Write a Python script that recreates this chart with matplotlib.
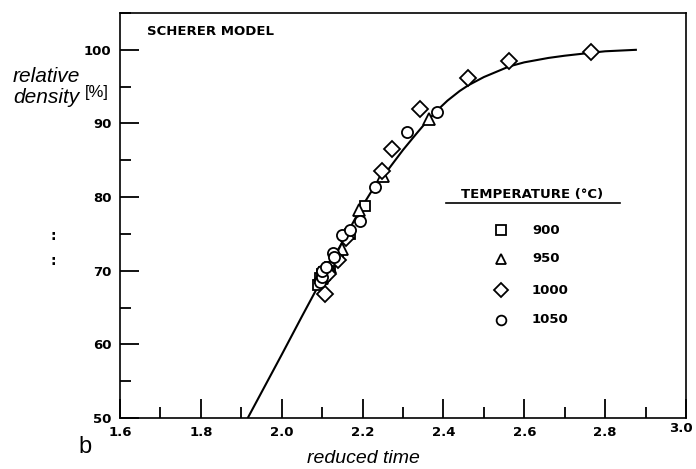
import numpy as np
import matplotlib.pyplot as plt
from matplotlib.ticker import MultipleLocator
from matplotlib.transforms import ScaledTranslation

plt.rcParams['font.family'] = ['DejaVu Sans']

# Scherer model curve (reduced time, relative density %)
model_t = [1.916, 2.0, 2.05, 2.094, 2.15, 2.193, 2.22, 2.267, 2.30, 2.333, 2.35,
           2.383, 2.41, 2.44, 2.462, 2.50, 2.563, 2.60, 2.66, 2.70, 2.765, 2.80, 2.876]
model_rho = [50.0, 58.6, 63.8, 68.3, 73.9, 78.2, 80.6, 84.0, 86.4, 88.6, 89.7,
             91.7, 93.1, 94.4, 95.2, 96.3, 97.75, 98.3, 98.9, 99.2, 99.6, 99.8, 100.0]

# measured points per sintering temperature
t_900 = [2.09, 2.095, 2.10, 2.105, 2.12, 2.14, 2.17, 2.205]
rho_900 = [68.0, 69.0, 69.5, 69.8, 70.5, 72.0, 75.0, 78.8]

t_950 = [2.10, 2.105, 2.12, 2.13, 2.15, 2.19, 2.25, 2.365]
rho_950 = [69.0, 70.0, 70.5, 71.5, 73.0, 78.2, 82.8, 90.6]

t_1000 = [2.10, 2.106, 2.11, 2.115, 2.14, 2.16, 2.247, 2.272, 2.341, 2.462, 2.563, 2.765]
rho_1000 = [68.8, 66.9, 70.0, 69.5, 71.5, 74.5, 83.6, 86.5, 91.9, 96.2, 98.5, 99.7]

t_1050 = [2.095, 2.10, 2.10, 2.11, 2.126, 2.13, 2.15, 2.168, 2.193, 2.23, 2.311, 2.385]
rho_1050 = [68.5, 69.2, 70.0, 70.5, 72.4, 71.8, 74.8, 75.5, 76.8, 81.4, 88.8, 91.6]

temps = ['900', '950', '1000', '1050']
markers = ['s', '^', 'D', 'o']
msizes = [7, 8, 8.5, 8]

fig = plt.figure(figsize=(6.96, 4.69), dpi=100)
ax = fig.add_axes([120/696, 51/469, 566/696, 405/469])

ax.plot(model_t, model_rho, color='black', lw=1.5, zorder=2)

series = [(t_900, rho_900), (t_950, rho_950), (t_1000, rho_1000), (t_1050, rho_1050)]
for (t, r), m, ms in zip(series, markers, msizes):
    ax.plot(t, r, ls='none', marker=m, ms=ms, mfc='white', mec='black',
            mew=1.3, zorder=3)

ax.set_xlim(1.6, 3.0)
ax.set_ylim(50, 105)
ax.xaxis.set_minor_locator(MultipleLocator(0.1))
ax.yaxis.set_minor_locator(MultipleLocator(5))
ax.set_xticks(np.arange(1.6, 3.01, 0.2))
ax.set_xticklabels(['1.6', '1.8', '2.0', '2.2', '2.4', '2.6', '2.8', '3.0'])
ax.set_yticks([50, 60, 70, 80, 90, 100])
ax.tick_params(which='major', direction='in', length=14, width=1.3, pad=6,
               labelsize=9.5)
ax.tick_params(which='minor', direction='in', length=8, width=1.3)
for lab in ax.get_xticklabels() + ax.get_yticklabels():
    lab.set_fontweight('bold')
# last x label sits a little left and higher
last = ax.get_xticklabels()[-1]
last.set_transform(last.get_transform() + ScaledTranslation(-4/72, 3/72, fig.dpi_scale_trans))
for s in ax.spines.values():
    s.set_linewidth(1.2)

ax.text(0.047, 0.955, 'SCHERER MODEL', transform=ax.transAxes, fontsize=9.5,
        fontweight='bold', va='center')

# legend block
ax.text(0.728, 0.551, 'TEMPERATURE (°C)', transform=ax.transAxes, fontsize=9.5,
        fontweight='bold', ha='center', va='center')
ax.plot([0.576, 0.883], [0.531, 0.531], transform=ax.transAxes, color='black',
        lw=1.2)
rows = [0.464, 0.393, 0.316, 0.242]
for lab, m, yy in zip(temps, markers, rows):
    ax.plot([0.673], [yy], transform=ax.transAxes, ls='none', marker=m, ms=7,
            mfc='white', mec='black', mew=1.3)
    ax.text(0.728, yy, lab, transform=ax.transAxes, fontsize=9.5,
            fontweight='bold', va='center')

fig.text(80/696, (469-82)/469, 'relative', ha='right', va='baseline',
         fontsize=15, style='italic', family='Liberation Sans')
fig.text(80/696, (469-103)/469, 'density', ha='right', va='baseline',
         fontsize=15, style='italic', family='Liberation Sans')
fig.text(85/696, (469-97)/469, '[%]', ha='left', va='baseline',
         fontsize=12, family='Liberation Sans')
fig.text(363/696, (469-463)/469, 'reduced time', ha='center', va='baseline',
         fontsize=14, style='italic', family='Liberation Sans')
fig.text(78/696, (469-453)/469, 'b', ha='left', va='baseline', fontsize=17,
         family='Liberation Sans')
fig.text(53/696, (469-240)/469, ':', ha='center', va='baseline', fontsize=10,
         fontweight='bold')
fig.text(53/696, (469-265)/469, ':', ha='center', va='baseline', fontsize=10,
         fontweight='bold')

fig.savefig('out.png', dpi=100)
